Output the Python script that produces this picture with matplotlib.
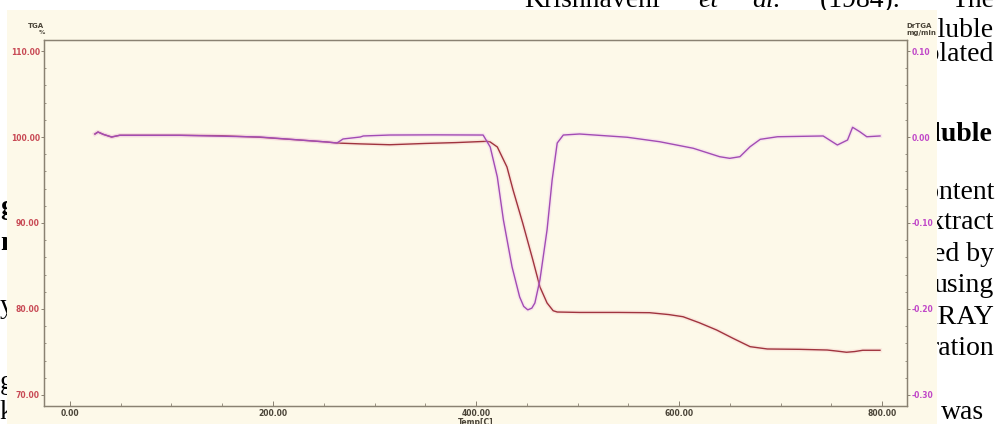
import numpy as np
import matplotlib
matplotlib.use("Agg")
import matplotlib.pyplot as plt
from matplotlib.ticker import MultipleLocator

# TGA curve (temperature in C, weight %)
tga_temp = [24.6, 27.6, 33, 41, 49, 108, 150, 187, 220, 253, 263, 286, 315, 350, 380, 411,
            414, 421, 430.5, 436.5, 446, 456, 463, 470, 476, 480, 502, 540, 571, 590, 604,
            620, 637, 653, 670, 687, 719, 746, 756, 765, 773, 781, 798]
tga_val = [100.35, 100.58, 100.3, 100.0, 100.2, 100.2, 100.15, 99.97, 99.7, 99.42, 99.3, 99.2,
           99.1, 99.25, 99.35, 99.5, 99.42, 98.84, 96.51, 93.84, 90.0, 85.7, 82.56, 80.7, 79.8,
           79.65, 79.6, 79.6, 79.57, 79.35, 79.1, 78.4, 77.56, 76.6, 75.62, 75.35, 75.31, 75.23,
           75.1, 74.97, 75.05, 75.2, 75.2]

# DrTGA curve (temperature in C, mg/min)
dr_temp = [24.6, 27.6, 33, 41, 49, 108, 187, 253, 263, 269, 286, 289, 315, 360, 407, 414, 421,
           427, 435.5, 443, 447, 451, 455, 458, 463, 470, 475, 480, 486, 502, 549, 581, 614, 640,
           650, 660, 670, 680, 697, 742, 756, 766, 771, 778, 785, 798]
dr_val = [0.0035, 0.0058, 0.003, 0.0, 0.002, 0.002, 0.0, -0.0058, -0.007, -0.0023, 0.0, 0.0012,
          0.0023, 0.0025, 0.0023, -0.0116, -0.0465, -0.0965, -0.151, -0.186, -0.197, -0.201,
          -0.199, -0.193, -0.166, -0.108, -0.05, -0.007, 0.0023, 0.0035, -0.0003, -0.0055,
          -0.0131, -0.0229, -0.0248, -0.0229, -0.0113, -0.0027, 0.0003, 0.0012, -0.0093,
          -0.0035, 0.0113, 0.0062, 0.0003, 0.0012]

left_ticks = [70, 80, 90, 100, 110]
right_ticks = [-0.30, -0.20, -0.10, 0.00, 0.10]
x_ticks = [0, 200, 400, 600, 800]

bg = "#fdf9e9"
spine_c = "#8a8272"
tga_c = "#a0343e"
dr_c = "#a24cb4"
W, H = 996, 424

fig = plt.figure(figsize=(9.96, 4.24), dpi=100)
fig.patch.set_facecolor("white")

serif = "Liberation Serif"

# page text behind the pasted chart image (the image block hides the left part)
def page_text(x, y, s, ha="left", weight="normal", style="normal"):
    fig.text(x / W, 1 - y / H, s, ha=ha, va="baseline", fontsize=20, family=serif,
             weight=weight, style=style, color="black", zorder=-5)

page_text(660, 7, "Krishnaveni", ha="right")
page_text(698, 7, "et", style="italic")
page_text(752, 7, "al.", style="italic")
page_text(820, 7, "(1984).")
page_text(994, 7, "The", ha="right")

right_lines = [("soluble", 37, "normal", 994), ("isolated", 61, "normal", 994),
               ("Soluble", 141, "bold", 992), ("content", 199, "normal", 994),
               ("extract", 229, "normal", 994), ("ed by", 261, "normal", 994),
               ("using", 292, "normal", 994), ("ARRAY", 324, "normal", 994),
               ("ration", 355, "normal", 994), ("was", 419, "normal", 984)]
for s, yb, w, xr in right_lines:
    page_text(xr, yb, s, ha="right", weight=w)

left_lines = [("g", 214, "bold"), ("n", 250, "bold"), ("y", 313, "normal"),
              ("g", 389, "normal"), ("k", 419, "normal")]
for s, yb, w in left_lines:
    page_text(0, yb, s, weight=w)

# beige image block
bga = fig.add_axes([7 / W, 0, (937 - 7) / W, (H - 10) / H], zorder=0)
bga.set_facecolor(bg)
bga.set_xticks([])
bga.set_yticks([])
for s in bga.spines.values():
    s.set_visible(False)

ax = fig.add_axes([44 / W, 18 / H, (907 - 44) / W, (406 - 40) / H], zorder=1)
ax.set_facecolor(bg)
ax2 = ax.twinx()
ax2.set_zorder(2)

# faint halo like the jpeg original, then the line itself
ax.plot(tga_temp, tga_val, color="#f2b4b8", lw=3.0, alpha=0.25, zorder=2)
ax.plot(tga_temp, tga_val, color=tga_c, lw=1.0, zorder=3)
ax2.plot(dr_temp, dr_val, color="#eab4f0", lw=3.0, alpha=0.25, zorder=2)
ax2.plot(dr_temp, dr_val, color=dr_c, lw=1.0, zorder=3)

ax.set_xlim(-25.6, 824.6)
ax.set_ylim(68.72, 111.28)
ax2.set_ylim(-0.3128, 0.1128)

lab = dict(fontsize=5.5, fontweight="bold", family="DejaVu Sans")
ax.set_yticks(left_ticks)
ax.set_yticklabels(["%.2f" % v for v in left_ticks], color="#c84a55", **lab)
ax.yaxis.set_minor_locator(MultipleLocator(2))
ax2.set_yticks(right_ticks)
ax2.set_yticklabels(["%.2f" % v if v != 0 else "0.00" for v in right_ticks], color="#c048c8", **lab)
ax2.yaxis.set_minor_locator(MultipleLocator(0.02))
ax.set_xticks(x_ticks)
ax.set_xticklabels(["%.2f" % v for v in x_ticks], color="#4a4438", **lab)
ax.xaxis.set_minor_locator(MultipleLocator(50))

ax.tick_params(axis="y", which="major", direction="out", length=2.5, width=0.7, color=spine_c, pad=0.5)
ax.tick_params(axis="y", which="minor", direction="in", length=1.5, width=0.6, color=spine_c)
ax2.tick_params(axis="y", which="major", direction="out", length=2.5, width=0.7, color=spine_c, pad=0.5)
ax2.tick_params(axis="y", which="minor", direction="in", length=1.5, width=0.6, color=spine_c)
ax.tick_params(axis="x", which="major", direction="in", length=3.5, width=0.7, color=spine_c, pad=2)
ax.tick_params(axis="x", which="minor", direction="in", length=2, width=0.6, color=spine_c)

for a in (ax, ax2):
    for s in a.spines.values():
        s.set_color(spine_c)
        s.set_linewidth(0.9)

ax.set_xlabel("Temp[C]", fontsize=5.5, fontweight="bold", color="#4a4438", labelpad=0)

fig.text(36 / W, 1 - 26 / H, "TGA", ha="center", va="center", fontsize=5, fontweight="bold", color="#4a4438")
fig.text(41.5 / W, 1 - 33 / H, "%", ha="center", va="center", fontsize=4.5, fontweight="bold", color="#4a4438")
fig.text(919 / W, 1 - 26 / H, "DrTGA", ha="center", va="center", fontsize=5, fontweight="bold", color="#4a4438")
fig.text(921 / W, 1 - 33 / H, "mg/min", ha="center", va="center", fontsize=5, fontweight="bold", color="#4a4438")

fig.savefig("out.png", dpi=100, facecolor="white")
